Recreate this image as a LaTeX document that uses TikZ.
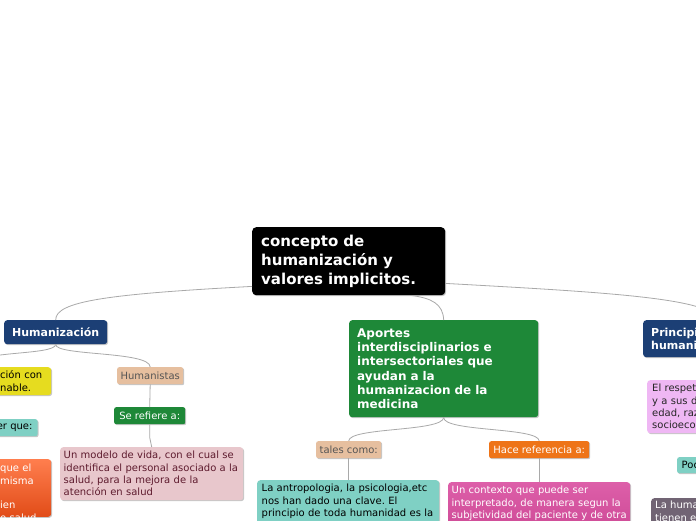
\documentclass[tikz,border=0pt]{standalone}
\usepackage{fontspec}
\setmainfont{DejaVu Sans}
\usetikzlibrary{shadows}
\frenchspacing
\definecolor{connc}{HTML}{A9A9A9}
\definecolor{bluec}{HTML}{1C3F75}
\definecolor{greenc}{HTML}{1E8838}
\definecolor{peachc}{HTML}{E6BF9F}
\definecolor{hacec}{HTML}{EE7418}
\definecolor{tealc}{HTML}{7FD0C4}
\definecolor{pinktop}{HTML}{DD5FA9}
\definecolor{pinkbot}{HTML}{C53E8C}
\definecolor{rosec}{HTML}{E8C7CC}
\definecolor{rosetext}{HTML}{5E1B2E}
\definecolor{yellowc}{HTML}{E6DC1F}
\definecolor{orgtop}{HTML}{FF7E4E}
\definecolor{orgbot}{HTML}{E14C18}
\definecolor{violetc}{HTML}{EFB7F4}
\definecolor{greyvc}{HTML}{716474}
\definecolor{peachtext}{HTML}{555555}
\tikzset{
  conn/.style={draw=connc, line width=0.8pt},
  shad/.style={drop shadow={shadow xshift=1pt, shadow yshift=-1pt, fill=black, opacity=0.22}},
  bx/.style={shad, rectangle, rounded corners=3pt, anchor=north west, align=left,
    font=\fontsize{10}{12.3}\selectfont},
  tag/.style={shad, rectangle, rounded corners=2pt, anchor=north west, align=center,
    inner sep=0pt, font=\fontsize{10}{12}\selectfont},
  titlebx/.style={bx, font=\bfseries\fontsize{11}{13}\selectfont, text=white, fill=bluec},
}
\begin{document}
\begin{tikzpicture}[x=1pt,y=-1pt]
\useasboundingbox (0,0) rectangle (696,520);
\clip (0,0) rectangle (696,520);
\fill[white] (0,0) rectangle (696,520);

% central node
\node[bx, rounded corners=4pt, fill=black, text=white, font=\bfseries\fontsize{15}{18.8}\selectfont,
  inner xsep=9pt, inner ysep=0pt, text width=175pt, minimum width=193pt, minimum height=68pt]
  (root) at (252,227) {concepto de\\humanización y\\valores implicitos.};

% middle branch
\node[bx, fill=greenc, text=white, font=\bfseries\fontsize{12}{14.2}\selectfont,
  inner xsep=8pt, inner ysep=0pt, text width=173pt, minimum width=189pt, minimum height=97pt]
  (apor) at (349,320) {Aportes\\interdisciplinarios e\\intersectoriales que\\ayudan a la\\humanizacion de la\\medicina};
\node[tag, fill=peachc, text=peachtext, minimum width=65pt, minimum height=17pt]
  (tales) at (316,441) {tales como:};
\node[tag, fill=hacec, text=white, minimum width=100pt, minimum height=17pt]
  (hace) at (489,441) {Hace referencia a:};
\node[bx, fill=tealc, text=black, inner xsep=4.5pt, inner ysep=4pt, text width=173pt,
  minimum width=182pt, text depth=60pt]
  (antro) at (257,480) {La antropologia, la psicologia,etc\\nos han dado una clave. El\\principio de toda humanidad es la};
\node[bx, top color=pinktop, bottom color=pinkbot, text=white, inner xsep=3.5pt, inner ysep=4pt,
  text width=175pt, minimum width=182pt, text depth=60pt]
  (ctx) at (448,482) {Un contexto que puede ser\\interpretado, de manera segun la\\subjetividad del paciente y de otra};

% left branch
\node[titlebx, align=center, inner xsep=8pt, inner ysep=0pt, minimum width=102pt, minimum height=24pt]
  (hum) at (4,320) {Humanización};
\node[tag, fill=peachc, text=peachtext, minimum width=66pt, minimum height=17pt]
  (hmts) at (117,367) {Humanistas};
\node[tag, fill=greenc, text=white, minimum width=71pt, minimum height=17pt]
  (sref) at (114,407) {Se refiere a:};
\node[bx, fill=rosec, text=rosetext, inner xsep=3.5pt, inner ysep=0pt, text width=176pt,
  minimum width=183pt, minimum height=53pt]
  (modelo) at (60,447) {Un modelo de vida, con el cual se\\identifica el personal asociado a la\\salud, para la mejora de la\\atención en salud};
\node[bx, fill=yellowc, text=black, inner xsep=4pt, inner ysep=0pt, text width=47pt,
  minimum width=55pt, minimum height=28pt]
  (yel) at (-4,367) {ción con\\nable.};
\node[tag, fill=tealc, text=black, minimum width=45.7pt, minimum height=17pt]
  (erque) at (-8.4,419) {er que:};
\node[bx, top color=orgtop, bottom color=orgbot, text=white, inner xsep=4pt, inner ysep=5pt,
  text width=47pt, minimum width=55pt, text depth=40pt]
  (org) at (-4,459) {que el\\misma\\\mbox{}\\ien\\e salud};

% right branch
\node[titlebx, inner xsep=8pt, inner ysep=0pt, text width=130pt, minimum width=146pt, minimum height=37pt]
  (pri) at (643,320) {Principios\\humanización};
\node[bx, fill=violetc, text=black!85, inner xsep=4pt, inner ysep=0pt, text width=100pt,
  minimum width=110pt, minimum height=53pt]
  (resp) at (647,380) {El respeto\\y a sus d\\edad, raz\\socioecon};
\node[tag, fill=tealc, text=black, align=left, inner xsep=4.5pt, minimum height=16pt]
  (poc) at (677,457) {Poc};
\node[bx, fill=greyvc, text=white, inner xsep=4pt, inner ysep=3pt, text width=80pt, text depth=40pt]
  (lahum) at (651,498) {La huma\\tienen e};

% connectors
\draw[conn] ([yshift=9pt]root.south west) .. controls (110,294) and (55,301) .. (hum.north);
\draw[conn] ([yshift=12pt]root.south east) .. controls (600,292) and (716,298) .. (pri.north);
\draw[conn] ([xshift=-35pt]root.south east) .. controls (432,298) and (443,304) .. (apor.north);
\draw[conn] (apor.south) .. controls (443,432) and (349,427) .. (tales.north);
\draw[conn] (apor.south) .. controls (443,432) and (539,427) .. (hace.north);
\draw[conn] (tales.south) -- (tales.south |- antro.north);
\draw[conn] (hace.south) -- (hace.south |- ctx.north);
\coordinate (yelin) at (-30,367);
\draw[conn] (hum.south) .. controls (55,356) and (150,351) .. (hmts.north);
\draw[conn] (hum.south) .. controls (55,356) and (-30,350) .. (yelin);
\draw[conn] (hmts.south) -- (sref.north);
\draw[conn] (sref.south) -- ++(0,13) -- (modelo.north);
\end{tikzpicture}
\end{document}
